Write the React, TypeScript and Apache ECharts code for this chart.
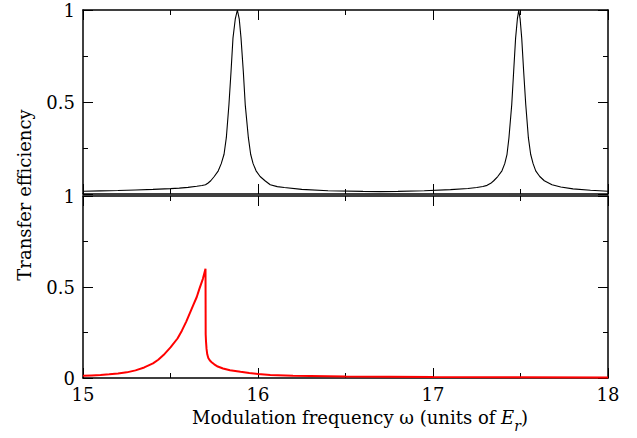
import React, { useEffect, useRef } from 'react';
import * as echarts from 'echarts';

// Top panel (black curve)
const topX = [
  15.0, 15.1, 15.2, 15.3, 15.4, 15.5, 15.55, 15.6, 15.65, 15.68, 15.7, 15.715, 15.73, 15.75, 15.773, 15.79, 15.806, 15.819, 15.834,
  15.846, 15.857, 15.87, 15.882, 15.893, 15.903, 15.916, 15.927, 15.945, 15.958, 15.972, 15.989, 16.012, 16.04, 16.07, 16.11,
  16.15, 16.25, 16.4, 16.6, 16.7, 16.8, 16.95, 17.1, 17.2, 17.25, 17.285, 17.309, 17.33, 17.347, 17.37, 17.394, 17.41, 17.423, 17.434,
  17.45, 17.461, 17.472, 17.482, 17.49, 17.498, 17.507, 17.518, 17.53, 17.545, 17.558, 17.572, 17.587, 17.61, 17.636,
  17.68, 17.73, 17.8, 17.9, 18.0,
];
const topY = [
  0.015, 0.017, 0.019, 0.022, 0.025, 0.029, 0.032, 0.036, 0.042, 0.046, 0.05, 0.06, 0.072, 0.095, 0.126, 0.165, 0.216, 0.306, 0.486,
  0.667, 0.847, 0.95, 1.0, 0.95, 0.847, 0.667, 0.486, 0.306, 0.216, 0.165, 0.126, 0.095, 0.072, 0.05, 0.04,
  0.035, 0.025, 0.018, 0.014, 0.013, 0.014, 0.018, 0.024, 0.03, 0.035, 0.041, 0.047, 0.058, 0.072, 0.095, 0.126, 0.165, 0.216, 0.306,
  0.486, 0.667, 0.847, 0.95, 1.0, 0.95, 0.847, 0.667, 0.486, 0.306, 0.216, 0.165, 0.126, 0.095, 0.072,
  0.05, 0.038, 0.028, 0.02, 0.015,
];

// Bottom panel (red curve)
const botX = [
  15.0, 15.05, 15.1, 15.15, 15.2, 15.25, 15.3, 15.35, 15.4, 15.43, 15.46, 15.5, 15.54, 15.565, 15.59, 15.61, 15.63, 15.65, 15.665,
  15.685, 15.7, 15.701, 15.703, 15.706, 15.71, 15.716, 15.725, 15.735, 15.75, 15.77, 15.8, 15.84, 15.9, 15.95, 16.0, 16.07,
  16.2, 16.5, 17.0, 17.5, 18.0,
];
const botY = [
  0.012, 0.014, 0.016, 0.02, 0.025, 0.031, 0.042, 0.058, 0.08, 0.1, 0.126, 0.168, 0.217, 0.26, 0.31, 0.355, 0.4, 0.445, 0.49,
  0.545, 0.6, 0.24, 0.2, 0.16, 0.13, 0.11, 0.096, 0.087, 0.075, 0.063, 0.052, 0.043, 0.034, 0.027, 0.022, 0.016,
  0.012, 0.008, 0.005, 0.004, 0.003,
];

const xTickLabels = ['15', '16', '17', '18'];

const FONT = 'DejaVu Serif';

export default function App() {
  const ref = useRef<HTMLDivElement>(null);
  useEffect(() => {
    const chart = echarts.init(ref.current!, null, { renderer: 'svg' });
    const frame = { show: true, onZero: false, lineStyle: { color: '#000', width: 1.5 } };
    const tick = { show: true, inside: true, length: 10, lineStyle: { color: '#000', width: 1 } };
    const minor = { show: true, splitNumber: 2, length: 5, lineStyle: { color: '#000', width: 1 } };
    const labelBase = { fontSize: 18, fontFamily: FONT, color: '#000', lineHeight: 14 };
    const mkX = (grid: number, position: string, showLabel: boolean) => ({
      type: 'value', gridIndex: grid, position, min: 15, max: 18, interval: 1,
      axisLine: frame, axisTick: tick, minorTick: minor, splitLine: { show: false },
      axisLabel: {
        show: showLabel, ...labelBase, margin: 9,
        formatter: (v: number) => xTickLabels[Math.round(v - 15)] ?? '',
      },
    });
    const mkY = (grid: number, position: string, showLabel: boolean, hideZero: boolean) => ({
      type: 'value', gridIndex: grid, position, min: 0, max: 1, interval: 0.5,
      axisLine: frame, axisTick: tick, minorTick: minor, splitLine: { show: false },
      axisLabel: {
        show: showLabel, ...labelBase, margin: 8,
        formatter: (v: number) => (hideZero && v === 0 ? '' : String(v)),
      },
    });
    chart.setOption({
      animation: false,
      backgroundColor: '#fff',
      textStyle: { fontFamily: FONT },
      grid: [
        { left: 83, top: 10, width: 525, height: 184 },
        { left: 83, top: 196, width: 525, height: 182 },
      ],
      xAxis: [mkX(0, 'bottom', false), mkX(0, 'top', false), mkX(1, 'bottom', true), mkX(1, 'top', false)],
      yAxis: [mkY(0, 'left', true, true), mkY(0, 'right', false, true), mkY(1, 'left', true, false), mkY(1, 'right', false, false)],
      series: [
        {
          type: 'line', xAxisIndex: 0, yAxisIndex: 0, showSymbol: false, symbol: 'none',
          data: topX.map((x, i) => [x, topY[i]]),
          lineStyle: { color: '#000', width: 1.1 },
        },
        {
          type: 'line', xAxisIndex: 2, yAxisIndex: 2, showSymbol: false, symbol: 'none',
          data: botX.map((x, i) => [x, botY[i]]),
          lineStyle: { color: '#ff0000', width: 2 },
        },
      ],
      graphic: [
        {
          type: 'text', x: 24, y: 195, rotation: Math.PI / 2,
          style: {
            text: 'Transfer efficiency', fontSize: 18, fontFamily: FONT, fill: '#000',
            align: 'center', verticalAlign: 'middle',
          },
        },
        {
          type: 'text', x: 360, y: 417,
          style: {
            text: 'Modulation frequency ω (units of {i|E}{s|r})',
            fontSize: 18, fontFamily: FONT, fill: '#000', align: 'center', verticalAlign: 'middle',
            rich: {
              i: { fontSize: 18, fontFamily: FONT, fontStyle: 'italic', fill: '#000' },
              s: { fontSize: 14, fontFamily: FONT, fontStyle: 'italic', fill: '#000', lineHeight: 14, padding: [18, 0, 0, 0] },
            },
          },
        },
      ],
    });
    return () => chart.dispose();
  }, []);
  return <div ref={ref} style={{ position: 'fixed', left: 0, top: 0, width: 637, height: 438 }} />;
}
